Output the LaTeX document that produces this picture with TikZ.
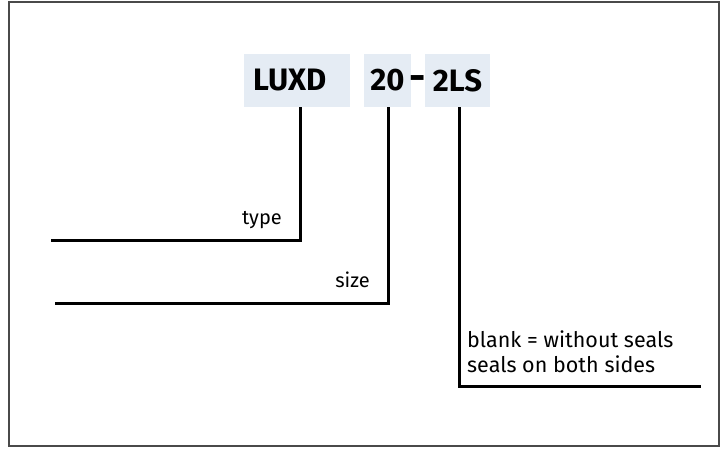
\documentclass[tikz,border=0pt]{standalone}
\usepackage{fontspec}
\setmainfont{Fira Sans}
\definecolor{boxfill}{HTML}{E5ECF4}
\definecolor{framecol}{HTML}{4A4A4A}
\tikzset{
  frame/.style={draw=framecol, line width=1.5pt},
  codebox/.style={fill=boxfill, inner sep=0pt, font=\fontsize{31}{31}\selectfont\bfseries},
  lead/.style={line width=3pt, draw=black},
  lbl/.style={inner sep=0pt, font=\fontsize{20}{25}\selectfont},
  lblb/.style={inner sep=0pt, font=\fontsize{21.5}{25}\selectfont},
}
\begin{document}
\begin{tikzpicture}[x=1pt,y=-1pt]
\useasboundingbox (0,0) rectangle (722,448);
\draw[frame] (9,2) rectangle (719,446);
\node[codebox, minimum width=106pt, minimum height=53pt, text width=88pt, align=left] (luxd) at (297,80.5) {LUXD};
\node[codebox, minimum width=47pt, minimum height=53pt] (size) at (387.5,80.5) {20};
\node[codebox, fill=none, font=\fontsize{40}{40}\selectfont\bfseries] (dash) at (417.5,83) {-};
\node[codebox, minimum width=65pt, minimum height=53pt] (seal) at (457.5,80.5) {2LS};
\coordinate (t1) at (300,240);
\coordinate (t0) at (51,240);
\coordinate (s1) at (388,303);
\coordinate (s0) at (55,303);
\coordinate (b1) at (459,386);
\coordinate (b0) at (701,386);
\draw[lead] (luxd.south -| t1) -- (t1) -- (t0);
\draw[lead] (size.south -| s1) -- (s1) -- (s0);
\draw[lead] (seal.south -| b1) -- (b1) -- (b0);
\node[lbl, anchor=base east] (typel) at (282,224) {type};
\node[lbl, anchor=base east] (sizel) at (370,287) {size};
\node[lblb, anchor=base west, align=left] (blankl) at (467,347) {blank = without seals};
\node[lblb, anchor=base west, align=left] (bothl) at (467,372) {seals on both sides};
\end{tikzpicture}
\end{document}
